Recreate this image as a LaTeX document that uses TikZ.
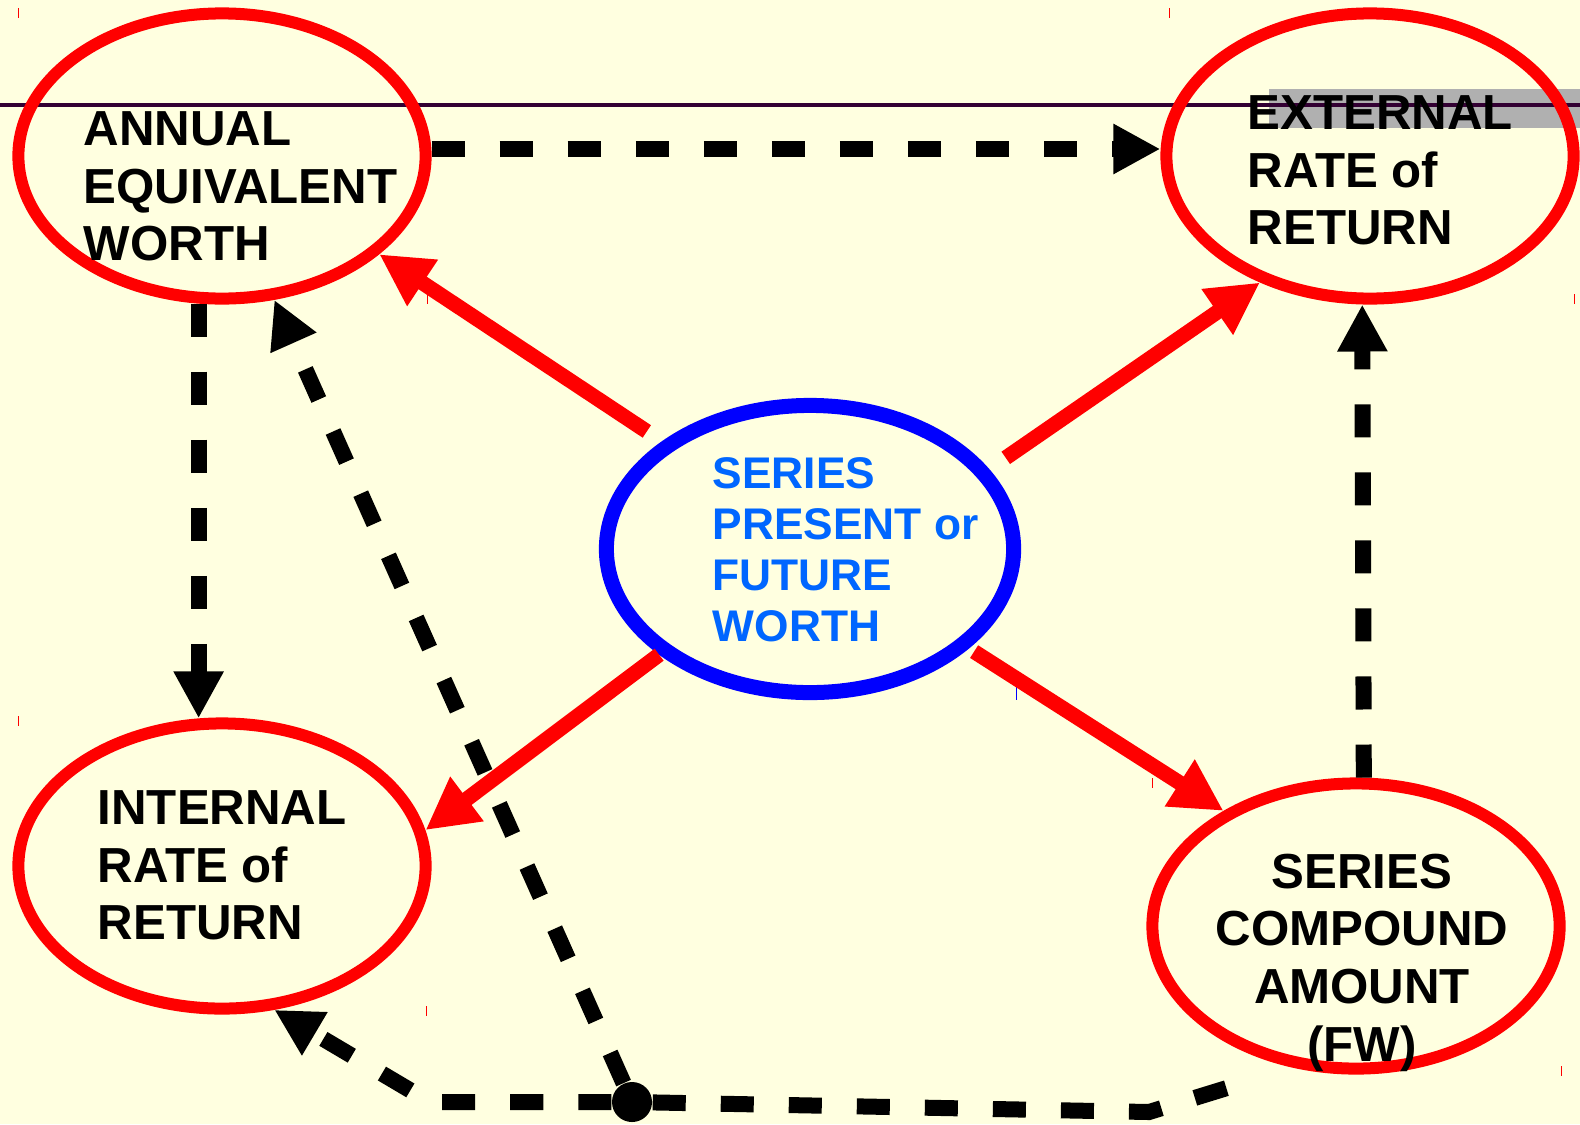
\documentclass[tikz,border=0pt]{standalone}
\usepackage{fontspec}
\setmainfont{Liberation Sans}
\usetikzlibrary{shapes.geometric,arrows.meta}
\definecolor{paper}{RGB}{255,255,224}
\definecolor{rulepurple}{RGB}{51,0,51}
\definecolor{bargray}{RGB}{176,176,176}
\definecolor{ovalred}{RGB}{255,0,0}
\definecolor{ovalblue}{RGB}{0,0,255}
\definecolor{textblue}{RGB}{0,102,255}
\begin{document}
\begin{tikzpicture}[x=0.01cm, y=-0.01cm,
   oval/.style={ellipse, draw=ovalred, line width=0.12cm, minimum width=4.07cm, minimum height=2.85cm, inner sep=0pt},
   ovaltext/.style={font=\fontsize{14pt}{16.4pt}\selectfont\bfseries, align=left, inner sep=0pt, anchor=north west},
   hubdot/.style={circle, fill=black, minimum size=0.4cm, inner sep=0pt},
   redarrow/.style={ovalred, line width=0.15cm, -{Triangle[length=0.52cm,width=0.52cm]}},
   dashline/.style={black, line width=0.16cm, dash pattern=on 0.33cm off 0.35cm},
   dasharrow/.style={dashline, -{Triangle[length=0.47cm,width=0.47cm]}}]
   \useasboundingbox (0,0) rectangle (1580,1124);
   \fill[paper] (0,0) rectangle (1580,1124);
   \fill[bargray] (1269,89) rectangle (1580,128);
   \draw[rulepurple, line width=0.04cm] (0,105) -- (1580,105);
   \foreach \tx/\ty in {18/13, 1169/13, 427/299, 1574/299, 18/721, 1152/783, 426/1011, 1561/1071}
      \draw[ovalred, line width=0.01cm] (\tx,\ty-5) -- (\tx,\ty+5);
   \draw[ovalblue, line width=0.01cm] (1016,687) -- (1016,700);

   \node[oval]  (aew) at (222,156)  {};
   \node[oval]  (err) at (1370,156) {};
   \node[oval, draw=ovalblue, line width=0.15cm, minimum height=2.87cm] (cen) at (810,549) {};
   \node[oval]  (irr) at (222,866)  {};
   \node[oval]  (sca) at (1356,926) {};

   \node[ovaltext] (aewtxt) at (83,111)  {ANNUAL\\EQUIVALENT\\WORTH};
   \node[ovaltext] (errtxt) at (1247,95) {EXTERNAL\\RATE of\\RETURN};
   \node[ovaltext] (irrtxt) at (97,790)  {INTERNAL\\RATE of\\RETURN};
   \node[ovaltext, align=center, anchor=north] (scatxt) at (1362,853) {SERIES\\COMPOUND\\AMOUNT\\(FW)};
   \node[ovaltext, textblue, font=\fontsize{12.6pt}{14.5pt}\selectfont\bfseries] (centxt) at (712,457) {SERIES\\PRESENT or\\FUTURE\\WORTH};

   \draw[redarrow, shorten <=0.18cm] (cen.144) -- (aew.-32);
   \draw[redarrow, shorten <=0.2cm]  (cen.24)  -- (err.-131);
   \draw[redarrow]                   (cen.-145) -- (irr.10);
   \draw[redarrow, shorten <=0.06cm] (cen.-32) -- (sca.139);

   \draw[dasharrow] ([yshift=0.07cm]aew.east) -- ([yshift=0.07cm]err.west);
   \draw[dasharrow] (aew.-99) -- (irr.99);
   \draw[dasharrow] (sca.87) -- (err.-93);

   \node[hubdot] (hub) at (632,1102) {};
   \coordinate (bendl) at (430,1102);
   \coordinate (bendr) at (1149,1112);
   \draw[dasharrow] (hub) -- (aew.-70);
   \draw[dasharrow] (hub) -- (bendl) -- (irr.-70);
   \draw[dashline, shorten >=0.35cm]  (hub) -- (bendr) -- (sca.-114);
\end{tikzpicture}
\end{document}
